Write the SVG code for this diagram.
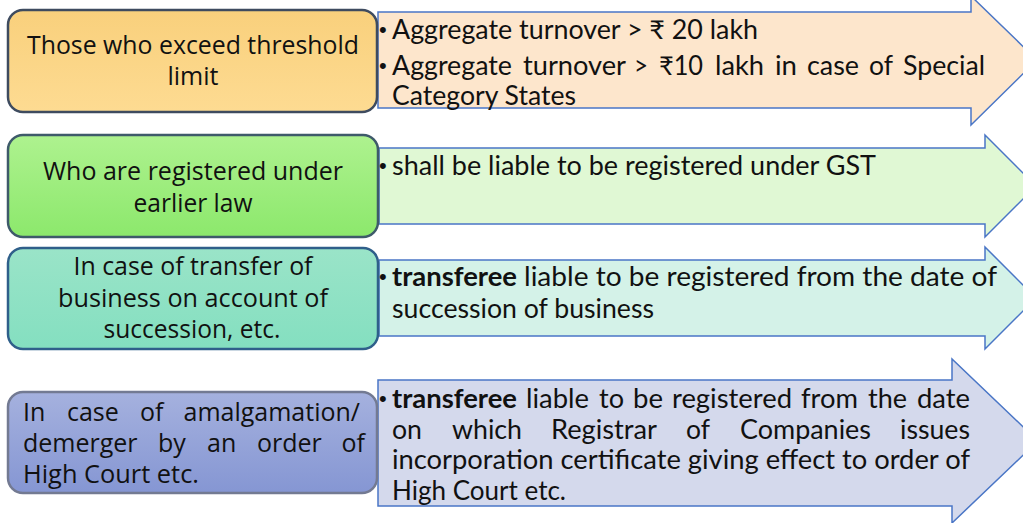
<svg xmlns="http://www.w3.org/2000/svg" width="1023" height="523" viewBox="0 0 1023 523">
<defs>
<linearGradient id="g1" x1="0" y1="0" x2="0" y2="1"><stop offset="0" stop-color="#f9d07c"/><stop offset="1" stop-color="#fddb92"/></linearGradient>
<linearGradient id="g2" x1="0" y1="0" x2="0" y2="1"><stop offset="0" stop-color="#aef28f"/><stop offset="1" stop-color="#8ce86c"/></linearGradient>
<linearGradient id="g3" x1="0" y1="0" x2="0" y2="1"><stop offset="0" stop-color="#9ae4c8"/><stop offset="1" stop-color="#84dfc0"/></linearGradient>
<linearGradient id="g4" x1="0" y1="0" x2="0" y2="1"><stop offset="0" stop-color="#a5b1de"/><stop offset="1" stop-color="#8596d3"/></linearGradient>
</defs>
<style>
.arrow{stroke:#4a76c6;stroke-width:1.5;stroke-linejoin:miter}
.box{stroke-width:2.5}
.bt{font-family:"Open Sans","Noto Sans","DejaVu Sans",sans-serif;font-size:25px;fill:#111}
.at{font-family:Lato,"Liberation Sans","DejaVu Sans",sans-serif;font-size:26px;fill:#111}
.bu{font-family:"Liberation Sans","DejaVu Sans",sans-serif;font-size:22px;fill:#111}
.b{font-weight:bold}
.e{text-anchor:end}
</style>
<g id="row1">
<polygon class="arrow" fill="#fde6cc" points="378,12 971,12 971,-4 1037,60 971,125 971,108 378,108"/>
<rect class="box" x="8" y="10" width="369" height="102" rx="15" fill="url(#g1)" stroke="#3e4b5f"/>
<text class="bt" x="193" y="54" text-anchor="middle" textLength="332" lengthAdjust="spacingAndGlyphs">Those who exceed threshold</text>
<text class="bt" x="193" y="85" text-anchor="middle">limit</text>
<text class="bu" x="379" y="37">•</text>
<text class="at" x="392" y="39" textLength="366" lengthAdjust="spacingAndGlyphs">Aggregate turnover &gt; ₹ 20 lakh</text>
<text class="bu" x="379" y="73">•</text>
<g class="at">
<text x="392" y="75" textLength="120" lengthAdjust="spacingAndGlyphs">Aggregate</text>
<text x="523" y="75" textLength="103" lengthAdjust="spacingAndGlyphs">turnover</text>
<text x="634" y="75" textLength="14" lengthAdjust="spacingAndGlyphs">&gt;</text>
<text x="659" y="75" textLength="44" lengthAdjust="spacingAndGlyphs">₹10</text>
<text x="715" y="75" textLength="49" lengthAdjust="spacingAndGlyphs">lakh</text>
<text x="775" y="75" textLength="22" lengthAdjust="spacingAndGlyphs">in</text>
<text x="807" y="75" textLength="52" lengthAdjust="spacingAndGlyphs">case</text>
<text x="869" y="75" textLength="24" lengthAdjust="spacingAndGlyphs">of</text>
<text x="903" y="75" textLength="82" lengthAdjust="spacingAndGlyphs">Special</text>
</g>
<text class="at" x="392" y="105" textLength="184" lengthAdjust="spacingAndGlyphs">Category States</text>
</g>
<g id="row2">
<polygon class="arrow" fill="#e0f8d4" points="379,148 985,148 985,135 1036,186 985,237 985,224 379,224"/>
<rect class="box" x="8" y="135" width="370" height="102" rx="15" fill="url(#g2)" stroke="#3e5a6a"/>
<text class="bt" x="193" y="180" text-anchor="middle" textLength="300" lengthAdjust="spacingAndGlyphs">Who are registered under</text>
<text class="bt" x="193" y="212" text-anchor="middle" textLength="119" lengthAdjust="spacingAndGlyphs">earlier law</text>
<text class="bu" x="379" y="173">•</text>
<text class="at" x="392" y="175" textLength="484" lengthAdjust="spacingAndGlyphs">shall be liable to be registered under GST</text>
</g>
<g id="row3">
<polygon class="arrow" fill="#d4f2e8" points="379,260 985,260 985,247 1036,298 985,349 985,336 379,336"/>
<rect class="box" x="8" y="248" width="370" height="101" rx="15" fill="url(#g3)" stroke="#2f5f8a"/>
<text class="bt" x="193" y="275" text-anchor="middle" textLength="239" lengthAdjust="spacingAndGlyphs">In case of transfer of</text>
<text class="bt" x="193" y="307" text-anchor="middle" textLength="270" lengthAdjust="spacingAndGlyphs">business on account of</text>
<text class="bt" x="192" y="338" text-anchor="middle" textLength="177" lengthAdjust="spacingAndGlyphs">succession, etc.</text>
<text class="bu" x="379" y="284">•</text>
<text class="at b" x="392" y="286" textLength="125" lengthAdjust="spacingAndGlyphs">transferee</text>
<text class="at" x="524" y="286" textLength="473" lengthAdjust="spacingAndGlyphs">liable to be registered from  the date of</text>
<text class="at" x="392" y="318" textLength="262" lengthAdjust="spacingAndGlyphs">succession of business</text>
</g>
<g id="row4">
<polygon class="arrow" fill="#d4d9ec" points="378,380 952,380 952,359 1038,441 952,523 952,506 378,506"/>
<rect class="box" x="8" y="392" width="369" height="101" rx="15" fill="url(#g4)" stroke="#737a92"/>
<g class="bt">
<text x="23" y="421">In</text>
<text x="67" y="421">case</text>
<text x="140" y="421">of</text>
<text class="e" x="360" y="421">amalgamation/</text>
<text x="23" y="452">demerger</text>
<text x="158" y="452">by</text>
<text x="207" y="452">an</text>
<text x="257" y="452">order</text>
<text class="e" x="365" y="452">of</text>
<text x="23" y="483" textLength="176" lengthAdjust="spacingAndGlyphs">High Court etc.</text>
</g>
<text class="bu" x="379" y="406">•</text>
<g class="at">
<text class="b" x="392" y="408" textLength="125" lengthAdjust="spacingAndGlyphs">transferee</text>
<text x="526" y="408" textLength="63" lengthAdjust="spacingAndGlyphs">liable</text>
<text x="599" y="408" textLength="25" lengthAdjust="spacingAndGlyphs">to</text>
<text x="633" y="408" textLength="30" lengthAdjust="spacingAndGlyphs">be</text>
<text x="672" y="408" textLength="120" lengthAdjust="spacingAndGlyphs">registered</text>
<text x="801" y="408" textLength="57" lengthAdjust="spacingAndGlyphs">from</text>
<text x="868" y="408" textLength="39" lengthAdjust="spacingAndGlyphs">the</text>
<text x="917" y="408" textLength="53" lengthAdjust="spacingAndGlyphs">date</text>
<text x="392" y="439" textLength="30" lengthAdjust="spacingAndGlyphs">on</text>
<text x="452" y="439" textLength="70" lengthAdjust="spacingAndGlyphs">which</text>
<text x="551" y="439" textLength="106" lengthAdjust="spacingAndGlyphs">Registrar</text>
<text x="686" y="439" textLength="24" lengthAdjust="spacingAndGlyphs">of</text>
<text x="740" y="439" textLength="131" lengthAdjust="spacingAndGlyphs">Companies</text>
<text x="900" y="439" textLength="70" lengthAdjust="spacingAndGlyphs">issues</text>
<text x="392" y="469" textLength="578" lengthAdjust="spacingAndGlyphs">incorporation  certificate giving effect to order of</text>
<text x="392" y="500" textLength="174" lengthAdjust="spacingAndGlyphs">High Court etc.</text>
</g>
</g>
</svg>
